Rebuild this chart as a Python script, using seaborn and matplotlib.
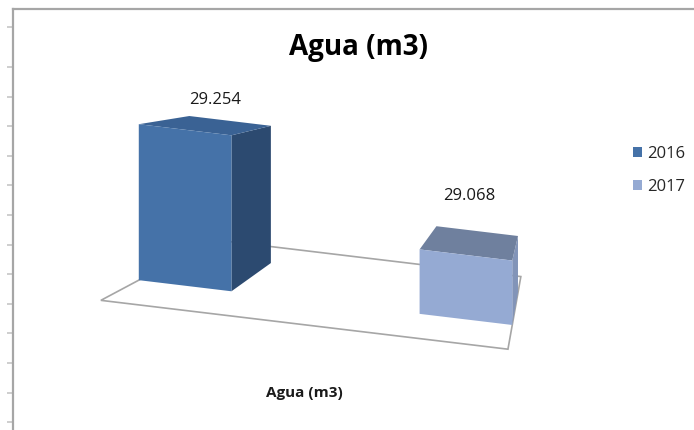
import numpy as np
import pandas as pd
import seaborn as sns
import matplotlib.pyplot as plt
from matplotlib.patches import Polygon, Patch
from matplotlib.transforms import Affine2D, IdentityTransform

# data
category = ['Agua (m3)']
years = ['2016', '2017']
values = [29.254, 29.068]
value_labels = ['29.254', '29.068']

# styles
front_colors = ['#4572A8', '#95AAD3']
side_colors = ['#2C4A70', '#8294B8']
top_colors = ['#3A6294', '#6F809E']
label_offsets = [(8, 25), (-2, 47)]

BASE = 28.937          # value axis minimum (like Excel autoscale)
K = 0.12               # tilt of the floor
VP = np.array([560.0, 374.0])   # vanishing point, display px
DEPTH = 0.12
FLOOR_FRONT, FLOOR_BACK = -0.09, 0.18

sns.set_theme(style='white')
plt.rcParams['font.family'] = ['Open Sans', 'DejaVu Sans']

fig = plt.figure(figsize=(6.94, 4.3), dpi=100)

# sheet-like border on the left / top
deco = fig.add_axes([12.5 / 694, 0, 1 - 12.5 / 694, 421.5 / 430], zorder=0)
deco.set_facecolor('none')
deco.set_xlim(0, 1)
deco.set_ylim(421.5, 0)
for s in ['bottom', 'right']:
    deco.spines[s].set_visible(False)
for s in ['top', 'left']:
    deco.spines[s].set_color('#A6A6A6')
    deco.spines[s].set_linewidth(1.6)
deco.set_xticks([])
deco.set_yticks([18.5] + list(np.arange(58.5, 421, 29.6)))
deco.tick_params(axis='y', left=True, direction='out', length=4, color='#C8C8C8', labelleft=False)

ax = fig.add_axes([0, 0, 1, 1], zorder=1)
df = pd.DataFrame({'cat': category * len(years), 'year': years, 'value': values})
sns.barplot(data=df, x='cat', y='value', hue='year', palette=front_colors,
            width=0.8, gap=0.67, saturation=1, legend=False, ax=ax)
ax.set_xlim(-0.4637, 0.5249)
ax.set_ylim(28.678, 29.552)
ax.set_axis_off()

pivot = ax.transData.transform((0, BASE))[0]
skew = Affine2D().translate(-pivot, 0).skew(0, np.arctan(-K)).translate(pivot, 0)
T = ax.transData + skew


def proj(x, y, s):
    p = T.transform((x, y))
    return p + s * (VP - p)


bars = list(ax.patches)

# floor
xl = bars[0].get_x()
xr = bars[-1].get_x() + bars[-1].get_width()
floor = [proj(xl, BASE, FLOOR_FRONT), proj(xr, BASE, FLOOR_FRONT),
         proj(xr, BASE, FLOOR_BACK), proj(xl, BASE, FLOOR_BACK)]
ax.add_patch(Polygon(floor, closed=True, facecolor='white', edgecolor='#A6A6A6',
                     lw=1.2, transform=IdentityTransform(), zorder=1, clip_on=False))

for i, bar in enumerate(bars):
    x0 = bar.get_x()
    x1 = x0 + bar.get_width()
    top = bar.get_height()
    side = [proj(x1, BASE, 0), proj(x1, top, 0), proj(x1, top, DEPTH), proj(x1, BASE, DEPTH)]
    lid = [proj(x0, top, 0), proj(x1, top, 0), proj(x1, top, DEPTH), proj(x0, top, DEPTH)]
    ax.add_patch(Polygon(side, closed=True, facecolor=side_colors[i], lw=0,
                         transform=IdentityTransform(), zorder=2 + 3 * i, clip_on=False))
    ax.add_patch(Polygon(lid, closed=True, facecolor=top_colors[i], lw=0,
                         transform=IdentityTransform(), zorder=3 + 3 * i, clip_on=False))
    bar.set_y(BASE)
    bar.set_height(top - BASE)
    bar.set_transform(T)
    bar.set_zorder(4 + 3 * i)
    bar.set_linewidth(0)
    bar.set_clip_on(False)

    anchor = proj((x0 + x1) / 2, top, DEPTH / 2)
    ax.annotate(value_labels[i], xy=anchor, xycoords='figure pixels',
                xytext=label_offsets[i], textcoords='offset pixels',
                ha='center', va='center', fontsize=12, color='#1a1a1a')

# category label under the floor
mid = (floor[0] + floor[1]) / 2
ax.annotate(category[0], xy=mid, xycoords='figure pixels', xytext=(0, -68),
            textcoords='offset pixels', ha='center', va='center',
            fontsize=11, fontweight='bold', color='#1a1a1a')

fig.text(0.516, 1 - 48 / 430, 'Agua (m3)', ha='center', va='center',
         fontsize=20, fontweight='bold', color='black')

handles = [Patch(facecolor=c, edgecolor='none') for c in front_colors]
fig.legend(handles, years, loc='upper left', bbox_to_anchor=(633 / 694, 1 - 146 / 430),
           frameon=False, fontsize=12, handlelength=0.55, handleheight=0.55,
           handletextpad=0.3, labelspacing=1.0, borderpad=0, borderaxespad=0)

fig.savefig('out.png', dpi=100)
